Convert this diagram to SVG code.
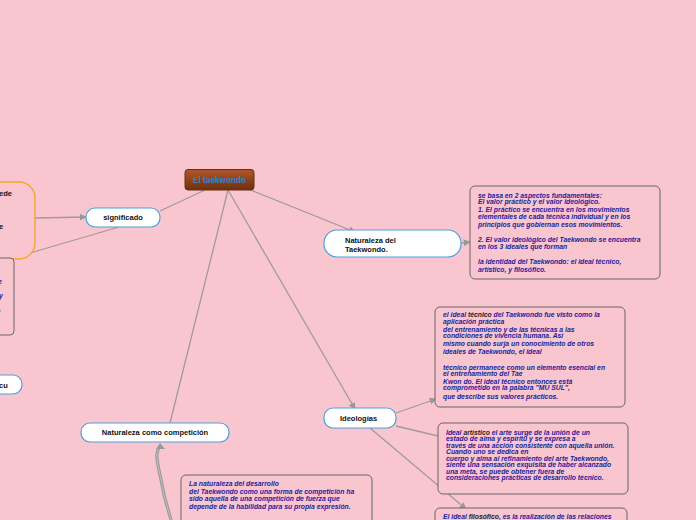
<svg xmlns="http://www.w3.org/2000/svg" width="696" height="520" viewBox="0 0 696 520">
<defs>
<linearGradient id="brown" x1="0" y1="0" x2="0" y2="1">
<stop offset="0" stop-color="#b0562a"/>
<stop offset="0.5" stop-color="#8f4418"/>
<stop offset="1" stop-color="#6e3010"/>
</linearGradient>
<marker id="arr" viewBox="0 0 10 10" refX="9" refY="5" markerWidth="7" markerHeight="7" orient="auto" markerUnits="userSpaceOnUse">
<path d="M0,0 L10,5 L0,10 z" fill="#999"/>
</marker>
<style>
.conn{stroke:#a09a9c;stroke-width:1.3;fill:none}
.node{fill:#fff;stroke:#4a9fe0;stroke-width:1.2}
.lbl{font-family:"Liberation Sans",Arial,sans-serif;font-weight:bold;font-size:7.5px;fill:#111}
.box{fill:#f9c6d0;stroke:#666;stroke-width:1}
.bt{font-family:"Liberation Sans",Arial,sans-serif;font-weight:bold;font-style:italic;font-size:6.8px;fill:#1c1c9a}
.blk{fill:#222}
</style>
</defs>
<rect width="696" height="520" fill="#f9c6d0"/>

<g id="connectors">
<line class="conn" x1="205" y1="190" x2="160" y2="211"/>
<line class="conn" x1="35" y1="218" x2="86" y2="217" marker-end="url(#arr)"/>
<line class="conn" x1="30" y1="253" x2="119" y2="227"/>
<line class="conn" x1="248" y1="189" x2="355" y2="232" marker-end="url(#arr)"/>
<line class="conn" x1="461" y1="243" x2="470" y2="242" marker-end="url(#arr)"/>
<line class="conn" x1="228" y1="190" x2="355" y2="409" marker-end="url(#arr)"/>
<line class="conn" x1="396" y1="413" x2="436" y2="399" marker-end="url(#arr)"/>
<line class="conn" x1="396" y1="426" x2="438" y2="436"/>
<line class="conn" x1="370" y1="428" x2="466" y2="509" marker-end="url(#arr)"/>
<line class="conn" x1="228" y1="190" x2="170" y2="423"/>
<path d="M161,446 C152,452 160,470 164,495 L171,520" stroke="#999" stroke-width="3.2" fill="none"/>
<path d="M161,446 C152,452 160,470 164,495 L171,520" stroke="#c8c0c4" stroke-width="1" fill="none"/>
<path d="M156,449 L160,443 L165,449 z" fill="#999"/>
</g>

<g id="node-central">
<rect x="185" y="169.5" width="69" height="20.5" rx="3" fill="url(#brown)" stroke="#6a2e0e" stroke-width="1"/>
<text x="219.5" y="182.5" text-anchor="middle" font-family="'Liberation Sans',Arial,sans-serif" font-weight="bold" font-size="8.2px" fill="#2f7fdc">El taekwondo</text>
</g>

<g id="node-left-orange">
<rect x="-40" y="182" width="75" height="77" rx="16" fill="#f9c6d0" stroke="#f5a623" stroke-width="1.3"/>
<text class="lbl" x="-1" y="196">ede</text>
<text class="lbl" x="-1" y="229">e</text>
</g>

<g id="node-left-box">
<rect x="-60" y="258" width="74" height="77" rx="4" class="box"/>
<text class="bt" x="-2" y="284">e</text>
<text class="bt" x="-1" y="298">y</text>
<text class="bt" x="-1" y="311">,</text>
</g>

<g id="node-left-small">
<rect x="-40" y="375" width="62" height="19" rx="9" class="node"/>
<text class="lbl" x="-1" y="387.5">cu</text>
</g>

<g id="node-significado">
<rect x="86" y="208" width="74" height="19" rx="9" class="node"/>
<text class="lbl" x="123" y="220" text-anchor="middle">significado</text>
</g>

<g id="node-naturaleza">
<rect x="324" y="230" width="137" height="27" rx="13" class="node"/>
<text class="lbl" x="345" y="243">Naturaleza del</text>
<text class="lbl" x="345" y="251.5">Taekwondo.</text>
</g>

<g id="box-aspectos">
<rect x="470" y="186" width="190" height="93" rx="5" class="box"/>
<text class="bt" x="478" y="198">se basa en 2 aspectos fundamentales:</text>
<text class="bt" x="478" y="204">El valor práctico y el valor ideológico.</text>
<text class="bt" x="478" y="212">1. El  práctico  se encuentra en los movimientos</text>
<text class="bt" x="478" y="219">elementales de cada técnica individual y en los</text>
<text class="bt" x="478" y="227">principios que gobiernan esos movimientos.</text>
<text class="bt" x="478" y="242">2. El valor ideológico del Taekwondo se encuentra</text>
<text class="bt" x="478" y="249">en los 3 ideales que forman</text>
<text class="bt" x="478" y="264">la identidad del Taekwondo: el ideal técnico,</text>
<text class="bt" x="478" y="272">artístico, y filosófico.</text>
</g>

<g id="node-ideologias">
<rect x="324" y="408" width="72" height="20" rx="9" class="node"/>
<text class="lbl" x="340" y="421">Ideologías</text>
</g>

<g id="box-tecnico">
<rect x="435" y="307" width="190" height="100" rx="5" class="box"/>
<text class="bt" x="443" y="317">el ideal <tspan class="blk">técnico</tspan> del Taekwondo fue visto como la</text>
<text class="bt" x="443" y="324">aplicación práctica</text>
<text class="bt" x="443" y="332">del entrenamiento y de las técnicas a las</text>
<text class="bt" x="443" y="338">condiciones de vivencia humana. Así</text>
<text class="bt" x="443" y="346">mismo cuando surja un conocimiento de otros</text>
<text class="bt" x="443" y="354">ideales de Taekwondo, el ideal</text>
<text class="bt" x="443" y="370">técnico permanece como un elemento esencial en</text>
<text class="bt" x="443" y="376">el entrenamiento del Tae</text>
<text class="bt" x="443" y="384">Kwon do. El ideal técnico entonces está</text>
<text class="bt" x="443" y="390">comprometido en la palabra "MU SUL",</text>
<text class="bt" x="443" y="399">que describe sus valores prácticos.</text>
</g>

<g id="box-artistico">
<rect x="438" y="423" width="190" height="71" rx="5" class="box"/>
<text class="bt" x="446" y="435">Ideal <tspan class="blk">artístico</tspan> el arte surge de la unión de un</text>
<text class="bt" x="446" y="441">estado de alma y espíritu y se expresa a</text>
<text class="bt" x="446" y="448">través de una acción consistente con aquella unión.</text>
<text class="bt" x="446" y="454">Cuando uno se dedica en</text>
<text class="bt" x="446" y="461">cuerpo y alma al refinamiento del arte Taekwondo,</text>
<text class="bt" x="446" y="467">siente una sensación exquisita de haber alcanzado</text>
<text class="bt" x="446" y="474">una meta, se puede obtener fuera de</text>
<text class="bt" x="446" y="480">consideraciones prácticas de desarrollo técnico.</text>
</g>

<g id="box-filosofico">
<rect x="435" y="508" width="192" height="40" rx="5" class="box"/>
<text class="bt" x="443" y="519">El ideal <tspan class="blk">filosófico</tspan>, es la realización de las relaciones</text>
</g>

<g id="node-competicion">
<rect x="81" y="423" width="148" height="19" rx="9" class="node"/>
<text class="lbl" x="155" y="435" text-anchor="middle">Naturaleza como competición</text>
</g>

<g id="box-competicion">
<rect x="181" y="475" width="191" height="60" rx="5" class="box"/>
<text class="bt" x="189" y="486">La naturaleza del desarrollo</text>
<text class="bt" x="189" y="494">del Taekwondo como una forma de competición ha</text>
<text class="bt" x="189" y="501">sido aquella de una competición de fuerza que</text>
<text class="bt" x="189" y="509">depende de la habilidad para su propia expresión.</text>
</g>
</svg>
